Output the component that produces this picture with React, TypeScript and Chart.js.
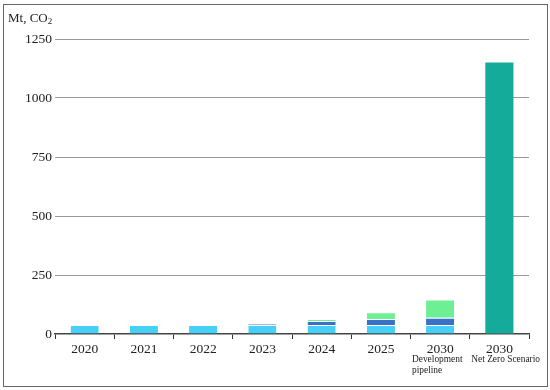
import React, { useEffect, useRef } from "react";
import { Chart, registerables } from "chart.js";

Chart.register(...registerables);

const categories = ["2020", "2021", "2022", "2023", "2024", "2025", "2030", "2030"];
const subLabels = [[], [], [], [], [], [], ["Development", "pipeline"], ["Net Zero Scenario"]];
const operating = [38, 38, 38, 38, 38, 38, 38, 0];
const underConstruction = [0, 0, 0, 4, 17, 26, 31, 0];
const planned = [0, 0, 0, 0, 9, 28, 77, 0];
const netZero = [0, 0, 0, 0, 0, 0, 0, 1150];
const yTicks = [0, 250, 500, 750, 1000, 1250];

const FONT = "'Liberation Serif', 'DejaVu Serif', serif";

export default function App() {
  const ref = useRef<HTMLCanvasElement | null>(null);
  useEffect(() => {
    if (!ref.current) return;
    const framePlugin = {
      id: "frame",
      beforeDraw(chart: any) {
        const ctx = chart.ctx;
        ctx.save();
        ctx.fillStyle = "#ffffff";
        ctx.fillRect(0, 0, chart.width, chart.height);
        ctx.strokeStyle = "#666";
        ctx.lineWidth = 1;
        ctx.strokeRect(3.5, 4.5, 544, 382);
        ctx.restore();
      },
      afterDraw(chart: any) {
        const ctx = chart.ctx;
        ctx.save();
        ctx.fillStyle = "#222";
        ctx.textBaseline = "alphabetic";
        ctx.textAlign = "left";
        ctx.font = `13px ${FONT}`;
        const t = "Mt, CO";
        ctx.fillText(t, 8, 21.5);
        const w = ctx.measureText(t).width;
        ctx.font = `9px ${FONT}`;
        ctx.fillText("2", 8 + w, 23.5);
        const xs = chart.scales.x;
        ctx.font = `9.4px ${FONT}`;
        subLabels.forEach((lines, i) => {
          if (!lines.length) return;
          const half = (xs.getPixelForValue(1) - xs.getPixelForValue(0)) / 2;
          const left = xs.getPixelForValue(i) - half + 1.5;
          lines.forEach((ln, j) => {
            ctx.fillText(ln, left, 362 + j * 10.5);
          });
        });
        ctx.restore();
      },
    };
    const ds = (label: string, data: number[], color: string, border: boolean) => ({
      label,
      data,
      backgroundColor: color,
      borderColor: "#ffffff",
      borderWidth: border ? { top: 1, left: 0, right: 0, bottom: 0 } : 0,
      borderSkipped: false,
      barPercentage: 0.95,
      categoryPercentage: 0.5,
    });
    const chart = new Chart(ref.current, {
      type: "bar",
      data: {
        labels: categories,
        datasets: [
          ds("Operating", operating, "#46cff7", true),
          ds("Under construction", underConstruction, "#3c6fc8", true),
          ds("Planned", planned, "#6cf093", true),
          ds("Net Zero Scenario", netZero, "#14ab9a", false),
        ],
      },
      options: {
        animation: false,
        responsive: false,
        layout: { padding: { top: 39, left: 0, right: 21, bottom: 0 } },
        plugins: { legend: { display: false }, tooltip: { enabled: false } },
        scales: {
          x: {
            stacked: true,
            afterFit(s: any) {
              s.height = 56;
            },
            grid: {
              display: true,
              offset: true,
              drawOnChartArea: false,
              drawTicks: true,
              tickLength: 5,
              color: "#333",
              lineWidth: 1,
            },
            border: { display: true, color: "#444", width: 1.5 },
            ticks: {
              color: "#222",
              font: { family: FONT, size: 13.5 },
              padding: 2,
              maxRotation: 0,
              autoSkip: false,
            },
          },
          y: {
            stacked: true,
            min: 0,
            max: 1250,
            afterFit(s: any) {
              s.width = 55;
            },
            afterBuildTicks(s: any) {
              s.ticks = yTicks.map((v) => ({ value: v }));
            },
            grid: {
              color: (c: any) => (c.tick && c.tick.value === 0 ? "rgba(0,0,0,0)" : "#999"),
              drawTicks: false,
              lineWidth: 1,
            },
            border: { display: false },
            ticks: {
              color: "#222",
              font: { family: FONT, size: 13.5 },
              padding: 3,
              callback: (v: any) => String(v),
            },
          },
        },
      },
      plugins: [framePlugin],
    });
    return () => chart.destroy();
  }, []);
  return (
    <div style={{ position: "absolute", left: 0, top: 0, width: 550, height: 390 }}>
      <canvas ref={ref} width={550} height={390} />
    </div>
  );
}
